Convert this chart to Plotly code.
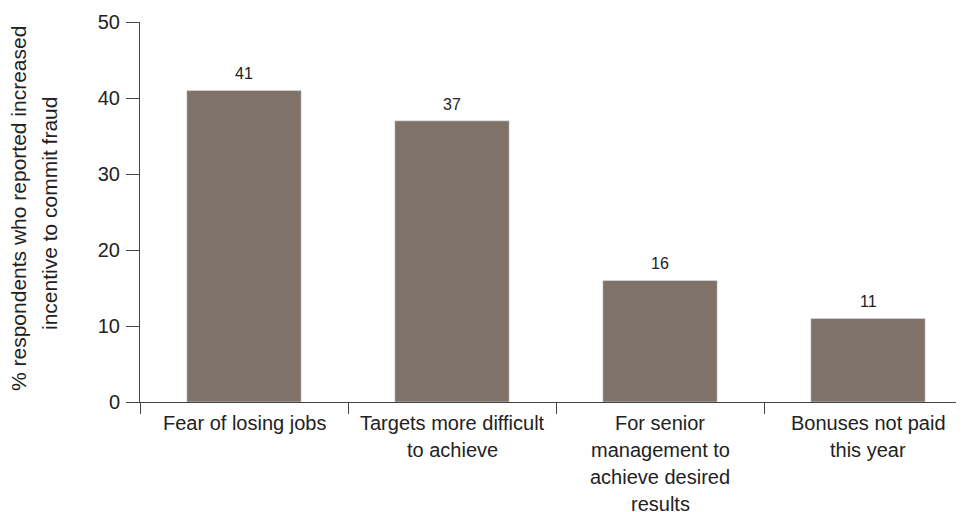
import plotly.graph_objects as go

categories = ["Fear of losing jobs", "Targets more difficult to achieve",
              "For senior management to achieve desired results", "Bonuses not paid this year"]
label_lines = [["Fear of losing jobs"],
               ["Targets more difficult", "to achieve"],
               ["For senior", "management to", "achieve desired", "results"],
               ["Bonuses not paid", "this year"]]
values = [41, 37, 16, 11]
y_ticks = [0, 10, 20, 30, 40, 50]
y_title_lines = ["% respondents who reported increased", "incentive to commit fraud"]

BAR = "#7f7369"
AX = "#444444"
TXT = "#222222"
FONT = "Liberation Sans, Arial, sans-serif"

fig = go.Figure(go.Bar(x=categories, y=values, marker_color=BAR, width=0.55,
                       hoverinfo="skip"))

annotations = []
for c, v in zip(categories, values):
    annotations.append(dict(x=c, y=v, text=str(v), showarrow=False, xref="x", yref="y",
                            yanchor="bottom", yshift=6,
                            font=dict(size=16, color=TXT, family=FONT)))
for c, lines in zip(categories, label_lines):
    for i, ln in enumerate(lines):
        annotations.append(dict(x=c, y=0, text=ln, showarrow=False, xref="x", yref="y",
                                yanchor="middle", yshift=-(21 + 27 * i),
                                font=dict(size=20, color=TXT, family=FONT)))
for i, ln in enumerate(y_title_lines):
    annotations.append(dict(x=0, y=0.5, text=ln, showarrow=False, xref="paper", yref="paper",
                            xanchor="center", yanchor="middle", textangle=-90,
                            xshift=-(122 - 31 * i), yshift=(3 if i == 0 else -2),
                            font=dict(size=21, color=TXT, family=FONT)))

fig.update_layout(
    width=956, height=504,
    margin=dict(l=132, r=0, t=14, b=110, autoexpand=False),
    plot_bgcolor="white", paper_bgcolor="white",
    showlegend=False,
    annotations=annotations,
    xaxis=dict(type="category", range=[-0.5, -0.5 + 824 / 208], showticklabels=False,
               tickson="boundaries", ticks="outside", ticklen=11, tickcolor=AX,
               showline=True, linecolor=AX, linewidth=1, showgrid=False, zeroline=False),
    yaxis=dict(range=[0, 50], tickvals=y_ticks, ticks="outside", ticklen=13, tickcolor=AX,
               showline=True, linecolor=AX, linewidth=1, showgrid=False, zeroline=False,
               tickfont=dict(size=20, color=TXT, family=FONT), ticklabelstandoff=2),
)

fig.write_html("out.html")
